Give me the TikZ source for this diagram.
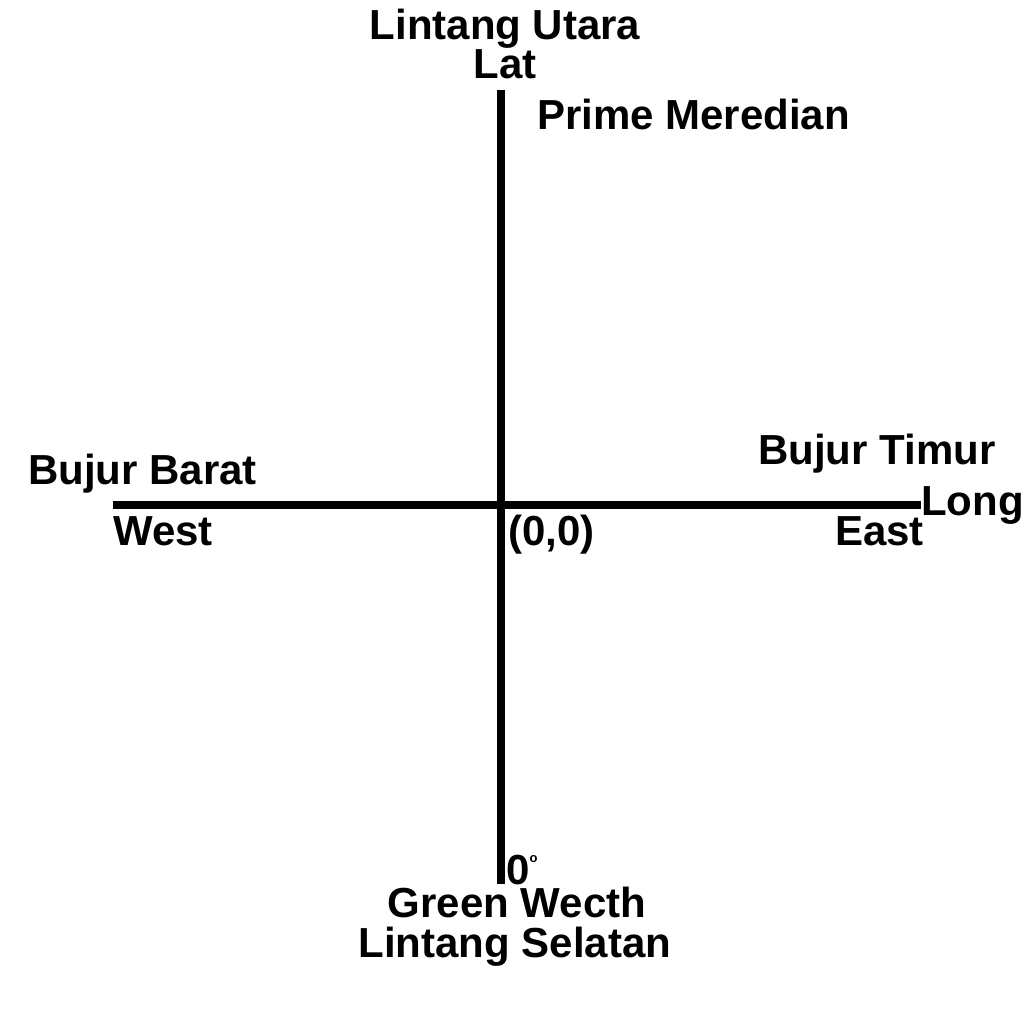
\documentclass[tikz,border=0pt]{standalone}
\usepackage{fontspec}
\setmainfont{Liberation Sans}
\tikzset{
  lbl/.style={font=\bfseries\fontsize{42}{44}\selectfont, inner sep=0pt},
  axis/.style={line width=8pt}
}
\begin{document}
\begin{tikzpicture}[x=1pt,y=-1pt]
            \useasboundingbox (0,0) rectangle (1024,1024);
            \coordinate (north) at (501,90);
            \coordinate (south) at (501,884);
            \coordinate (west) at (113,505);
            \coordinate (east) at (921,505);
            \coordinate (o) at (501,505);
            \draw[axis] (north) -- (south);
            \draw[axis] (west) -- (east);
            % labels on the latitude axis
            \node (utara) [lbl,anchor=base] at (505,40) {Lintang Utara};
            \node (lat) [lbl,anchor=base] at (505,79) {Lat};
            \node (prime) [lbl,anchor=base west] at (537,130) {Prime Meredian};
            \node (zero) [lbl,anchor=base west] at (506,884) {0\raisebox{22pt}{\fontsize{13}{13}\selectfont o}};
            \node (green) [lbl,anchor=base] at (517,917) {Green Wecth};
            \node (selatan) [lbl,anchor=base] at (515,957) {Lintang Selatan};
            % labels on the longitude axis
            \node (barat) [lbl,anchor=base west] at (28,484) {Bujur Barat};
            \node (westlbl) [lbl,anchor=base west] at (113,545) {West};
            \node (origin) [lbl,anchor=base west] at (508,545) {(0,0)};
            \node (timur) [lbl,anchor=base west] at (758,464) {Bujur Timur};
            \node (long) [lbl,anchor=base west] at (921,515) {Long};
            \node (eastlbl) [lbl,anchor=base west] at (835,545) {East};
        \end{tikzpicture}
\end{document}
